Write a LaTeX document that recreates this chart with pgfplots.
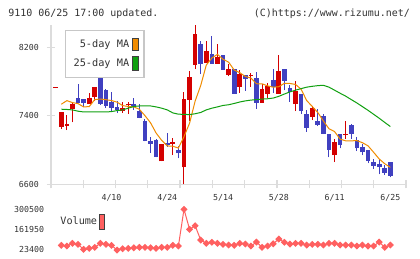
\documentclass[border=0pt]{standalone}
\usepackage{pgfplots}
\pgfplotsset{compat=1.18}
\usepackage{pgfplotstable}
\usepackage{fontspec}
\setmainfont{DejaVu Sans Mono}
\setmonofont{DejaVu Sans Mono}
\definecolor{upred}{HTML}{D40000}
\definecolor{dnblue}{HTML}{4040C0}
\definecolor{maorange}{HTML}{F08C00}
\definecolor{magreen}{HTML}{10A010}
\definecolor{volred}{HTML}{FF6060}
\definecolor{axgrey}{HTML}{DCDCDC}
\definecolor{txt}{HTML}{333333}

% x open high low close  (up days)
\pgfplotstableread{
x o h l c
-1 7724 7742 7724 7742
0 7269 7446 7245 7446
1 7284 7408 7234 7300
2 7481 7545 7324 7539
5 7543 7667 7543 7609
6 7624 7737 7578 7737
11 7452 7563 7435 7493
12 7524 7563 7426 7539
18 6869 7071 6869 7071
20 7067 7144 6943 7098
22 6799 7679 6602 7598
23 7589 7926 7345 7853
24 7996 8455 7945 8353
26 8019 8268 8019 8152
28 8008 8237 8008 8089
30 7880 8004 7861 7946
32 7740 7938 7671 7888
34 7866 7903 7737 7882
36 7555 7772 7555 7714
37 7659 7787 7606 7749
39 7659 8112 7659 7923
42 7536 7807 7455 7690
45 7392 7516 7350 7493
49 6943 7129 6862 7098
51 7177 7342 7136 7193
}\redtab

% down days
\pgfplotstableread{
x o h l c
3 7606 7772 7545 7551
4 7594 7600 7501 7548
7 7842 7880 7531 7539
8 7702 7710 7493 7513
9 7563 7673 7458 7496
10 7505 7571 7431 7473
13 7539 7609 7470 7501
14 7462 7539 7370 7377
15 7345 7365 7104 7106
16 7110 7152 6970 7078
17 7119 7125 6915 6918
19 7080 7199 7043 7063
21 7008 7051 6904 6962
25 8237 8272 7888 8008
27 8118 8326 8008 8008
29 8105 8105 7938 7938
31 7950 7950 7659 7659
33 7880 7880 7694 7833
35 7842 7911 7485 7555
38 7822 7950 7667 7734
40 7946 7946 7699 7807
41 7729 7757 7563 7679
43 7656 7656 7427 7455
44 7423 7473 7214 7264
46 7342 7478 7280 7292
47 7400 7427 7194 7194
48 7191 7191 6915 7008
50 7191 7191 7020 7055
52 7292 7300 7136 7194
53 7121 7152 6990 7020
54 7040 7078 6943 6974
55 7005 7005 6846 6874
56 6866 6892 6784 6819
57 6834 6892 6718 6804
58 6788 6822 6711 6738
59 6857 6857 6683 6703
}\bluetab

% x ma5 ma25 vol
\pgfplotstableread{
x m5 m25 v
0 7536 7478 49000
1 7578 7475 44000
2 7555 7470 63000
3 7543 7455 56000
4 7505 7446 21000
5 7508 7446 28000
6 7590 7446 35000
7 7597 7446 63000
8 7589 7446 56000
9 7579 7450 49000
10 7560 7462 16000
11 7520 7470 25000
12 7510 7490 28000
13 7505 7510 32000
14 7477 7516 35000
15 7403 7516 35000
16 7320 7516 32000
17 7200 7505 28000
18 7115 7490 35000
19 7050 7470 35000
20 7046 7435 49000
21 7025 7420 44000
22 7158 7418 300500
23 7315 7415 161000
24 7573 7425 186000
25 7755 7440 86000
26 7993 7470 63000
27 8075 7490 70000
28 8118 7505 63000
29 8060 7522 56000
30 8027 7530 51000
31 7935 7545 49000
32 7904 7562 63000
33 7860 7575 58000
34 7841 7584 44000
35 7775 7590 72000
36 7774 7596 35000
37 7750 7600 44000
38 7735 7608 60000
39 7740 7628 93000
40 7780 7655 70000
41 7778 7680 58000
42 7767 7700 63000
43 7711 7718 63000
44 7579 7735 51000
45 7510 7745 56000
46 7439 7753 56000
47 7340 7757 51000
48 7250 7735 63000
49 7217 7700 63000
50 7129 7664 51000
51 7109 7630 51000
52 7109 7590 51000
53 7112 7551 44000
54 7087 7508 51000
55 7051 7465 44000
56 6976 7419 44000
57 6898 7373 72000
58 6842 7324 35000
59 6800 7276 51000
}\matab

\begin{document}
\begin{tikzpicture}
\useasboundingbox (0,0) rectangle (420bp,259bp);
\fill[white] (0,0) rectangle (420bp,259bp);
\node[anchor=base west, inner sep=0pt, font=\fontsize{10}{12}\selectfont, text=txt] at (8.3bp,242.5bp) {9110 06/25 17:00 updated.};
\node[anchor=base east, inner sep=0pt, font=\fontsize{10}{12}\selectfont, text=txt] at (410bp,242.5bp) {(C)https://www.rizumu.net/};

\begin{axis}[
  at={(51bp,74.5bp)}, anchor=south west,
  scale only axis, width=355bp, height=159.5bp,
  xmin=-1.847, xmax=61.81, ymin=6600, ymax=8460,
  axis x line*=bottom, axis y line*=left,
  axis line style={-, draw=axgrey, line width=1.2bp},
  tick align=center, major tick length=8bp,
  xtick={-1.847,3.940,9.727,15.514,21.301,27.088,32.875,38.662,44.449,50.236,56.023,61.81},
  xticklabels={},
  xtick style={draw=axgrey, line width=1.2bp},
  extra x ticks={9,19,29,39,49,59},
  extra x tick labels={4/10,4/24,5/14,5/28,6/11,6/25},
  extra x tick style={major tick length=0pt, tick style={draw=none}},
  ytick={6600,7400,8200}, yticklabels={6600,7400,8200},
  ytick style={draw=axgrey, line width=1.2bp},
  scaled y ticks=false,
  ticklabel style={font=\fontsize{8.3}{10}\selectfont, text=txt, inner sep=0pt},
  xticklabel style={anchor=north}, xticklabel shift=9.5bp,
  yticklabel style={anchor=east}, yticklabel shift=8bp,
  legend style={at={(axis description cs:0.0394,0.969)}, anchor=north west,
    draw=black!22, line width=1.2bp, fill=white,
    font=\fontsize{10.3}{12}\selectfont, text=txt,
    inner xsep=5bp, inner ysep=6bp, row sep=4bp,
    nodes={inner sep=3bp}},
  legend plot pos=right, legend cell align=right,
  candle/.style={forget plot, draw=none, mark=none,
    error bars/.cd, y dir=plus, y explicit, error mark=none},
]
% wicks
\addplot[candle, error bar style={line width=1bp, draw=upred, solid}]
  table[x=x, y=l, y error plus expr=\thisrow{h}-\thisrow{l}] {\redtab};
\addplot[candle, error bar style={line width=1bp, draw=dnblue, solid}]
  table[x=x, y=l, y error plus expr=\thisrow{h}-\thisrow{l}] {\bluetab};
% bodies
\addplot[candle, error bar style={line width=4.7bp, draw=upred, solid}]
  table[x=x, y=o, y error plus expr=\thisrow{c}-\thisrow{o}] {\redtab};
\addplot[candle, error bar style={line width=4.7bp, draw=dnblue, solid}]
  table[x=x, y=c, y error plus expr=\thisrow{o}-\thisrow{c}] {\bluetab};
% moving averages
\addplot[maorange, line width=1bp, mark=none,
  legend image code/.code={\draw[fill=maorange, draw=black!75, line width=0.9bp] (0bp,-6bp) rectangle (6bp,6bp);}]
  table[x=x, y=m5] {\matab};
\addlegendentry{5-day MA}
\addplot[magreen, line width=1bp, mark=none,
  legend image code/.code={\draw[fill=magreen, draw=black!75, line width=0.9bp] (0bp,-7bp) rectangle (6bp,7bp);}]
  table[x=x, y=m25] {\matab};
\addlegendentry{25-day MA}
\end{axis}

\begin{axis}[
  at={(51bp,6bp)}, anchor=south west,
  scale only axis, width=355bp, height=50bp,
  xmin=-1.847, xmax=61.81, ymin=-4520, ymax=344474,
  axis line style={draw=none},
  xtick=\empty,
  ytick={23400,161950,300500}, yticklabels={23400,161950,300500},
  ytick style={draw=none}, scaled y ticks=false,
  ticklabel style={font=\fontsize{8.3}{10}\selectfont, text=txt, inner sep=0pt},
  yticklabel style={anchor=east}, yticklabel shift=6.7bp,
  clip=false,
  legend style={at={(axis description cs:0.0217,0.794)}, anchor=north west,
    draw=none, fill=none, font=\fontsize{10.2}{12}\selectfont, text=txt,
    inner sep=0pt, nodes={inner sep=1.5bp}},
  legend plot pos=right,
]
\addplot[volred, line width=1bp, mark=square*, mark size=2bp,
  mark options={rotate=45, solid, fill=volred, draw=volred},
  legend image code/.code={\draw[fill=volred, draw=black!75, line width=0.9bp] (0bp,-7.5bp) rectangle (5.6bp,7.5bp);}]
  table[x=x, y=v] {\matab};
\addlegendentry{Volume}
\end{axis}
\end{tikzpicture}
\end{document}
